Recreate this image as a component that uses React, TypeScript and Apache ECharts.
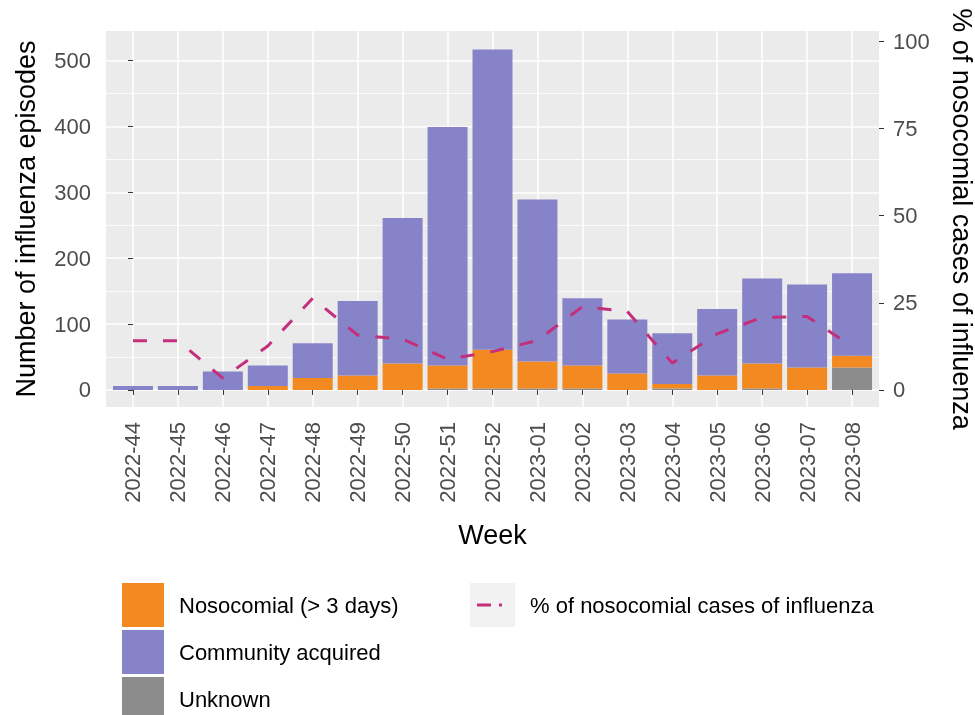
import React, { useEffect, useRef } from 'react';
import * as echarts from 'echarts';

const weeks = [
  '2022-44', '2022-45', '2022-46', '2022-47', '2022-48', '2022-49', '2022-50', '2022-51', '2022-52',
  '2023-01', '2023-02', '2023-03', '2023-04', '2023-05', '2023-06', '2023-07', '2023-08',
];
const unknown = [0, 0, 0, 0, 0, 0, 0, 2, 2, 2, 2, 0, 2, 0, 2, 0, 34];
const nosocomial = [0, 0, 0, 6, 18, 22, 40, 35, 59, 41, 35, 25, 7, 22, 38, 34, 18];
const community = [6, 6, 28, 31, 53, 113, 221, 362, 456, 246, 102, 82, 77, 101, 129, 126, 125];
const pctNosocomial = [14.1, 14.1, 3.4, 12.6, 26.3, 15.7, 14.6, 8.8, 11.0, 14.2, 23.9, 22.5, 7.7, 16.1, 20.8, 21.1, 12.4];

const leftTicks = [0, 100, 200, 300, 400, 500];
const leftMinorTicks = [50, 150, 250, 350, 450];
const rightTicks = [0, 25, 50, 75, 100];

const LEFT_MIN = -25.95;
const LEFT_MAX = 544.95;
const RIGHT_MIN = -4.905;
const RIGHT_MAX = 103.01;

export default function App() {
  const ref = useRef<HTMLDivElement>(null);
  useEffect(() => {
    if (!ref.current) return;
    const chart = echarts.init(ref.current, null, { renderer: 'svg' });
    const idx = weeks.map((_, i) => i);
    const font = '"Liberation Sans", Arial, sans-serif';
    const tickLabel = { fontSize: 22, color: '#4D4D4D', fontFamily: font };
    const titleStyle = { fontSize: 27, color: '#000000', fontFamily: font };
    const legendText = { fontSize: 22, color: '#000000', fontFamily: font, padding: [0, 0, 0, 10] };
    const tickStyle = { show: true, length: 5, lineStyle: { color: '#333333', width: 1 } };
    // value first, week index second: the stack is computed on the value (y) dimension, by index
    const barBase = {
      type: 'bar', stack: 'episodes', barWidth: 40, xAxisIndex: 0, yAxisIndex: 0,
      encode: { x: 1, y: 0 },
    };

    chart.setOption({
      animation: false,
      textStyle: { fontFamily: font },
      grid: {
        left: 106, right: 96, top: 31, bottom: 308,
        show: true, backgroundColor: '#EBEBEB', borderWidth: 0,
        outerBoundsMode: 'none', containLabel: false,
      },
      xAxis: {
        type: 'value', min: -0.6, max: 16.6,
        axisLine: { show: false },
        axisTick: { ...tickStyle, customValues: idx },
        axisLabel: {
          customValues: idx, rotate: 90, margin: 15,
          formatter: (v: number) => weeks[Math.round(v)] ?? '', ...tickLabel,
        },
        splitLine: { show: true, lineStyle: { color: '#FFFFFF', width: 1.5 } },
        name: 'Week', nameLocation: 'middle', nameGap: 114,
        nameTextStyle: titleStyle,
      },
      yAxis: [
        {
          type: 'value', position: 'left', min: LEFT_MIN, max: LEFT_MAX,
          axisLine: { show: false },
          axisTick: { ...tickStyle, customValues: leftTicks },
          axisLabel: { customValues: leftTicks, margin: 15, ...tickLabel },
          splitLine: { show: true, lineStyle: { color: '#FFFFFF', width: 1.5 } },
          name: 'Number of influenza episodes', nameLocation: 'middle', nameGap: 67,
          nameTextStyle: titleStyle,
        },
        {
          type: 'value', position: 'right', min: RIGHT_MIN, max: RIGHT_MAX,
          axisLine: { show: false },
          axisTick: { ...tickStyle, customValues: rightTicks },
          axisLabel: { customValues: rightTicks, margin: 14, ...tickLabel },
          splitLine: { show: false },
          name: '% of nosocomial cases of influenza', nameLocation: 'middle', nameGap: 69, nameRotate: -90,
          nameTextStyle: titleStyle,
        },
        {
          type: 'value', position: 'left', min: LEFT_MIN, max: LEFT_MAX,
          axisLine: { show: false },
          axisTick: { show: false, customValues: leftMinorTicks },
          axisLabel: { show: false },
          splitLine: { show: true, lineStyle: { color: '#FFFFFF', width: 0.8 } },
        },
      ],
      legend: [
        {
          orient: 'vertical', left: 117, top: 578, height: 200,
          itemWidth: 42, itemHeight: 44, itemGap: 3,
          icon: 'rect',
          data: ['Nosocomial (> 3 days)', 'Community acquired', 'Unknown'],
          textStyle: legendText,
          selectedMode: false,
        },
        {
          orient: 'vertical', left: 465, top: 578,
          itemWidth: 45, itemHeight: 44,
          data: [{ name: '% of nosocomial cases of influenza', icon: 'rect', itemStyle: { color: '#F2F2F2' } }],
          textStyle: legendText,
          selectedMode: false,
        },
      ],
      graphic: [
        { type: 'line', z: 100, shape: { x1: 477, y1: 605, x2: 491, y2: 605 }, style: { stroke: '#C42F7C', lineWidth: 3 } },
        { type: 'line', z: 100, shape: { x1: 499, y1: 605, x2: 502, y2: 605 }, style: { stroke: '#C42F7C', lineWidth: 3 } },
      ],
      series: [
        { ...barBase, name: 'Unknown', itemStyle: { color: '#8C8C8C' }, data: idx.map((i) => [unknown[i], i]) },
        { ...barBase, name: 'Nosocomial (> 3 days)', itemStyle: { color: '#F28A21' }, data: idx.map((i) => [nosocomial[i], i]) },
        { ...barBase, name: 'Community acquired', itemStyle: { color: '#8783C8' }, data: idx.map((i) => [community[i], i]) },
        {
          type: 'line', name: '% of nosocomial cases of influenza', xAxisIndex: 0, yAxisIndex: 1,
          symbol: 'none', showSymbol: false, z: 5,
          lineStyle: { color: '#C42F7C', width: 3, type: [14, 16] },
          itemStyle: { color: '#C42F7C' },
          data: idx.map((i) => [i, pctNosocomial[i]]),
        },
      ],
    });
    return () => chart.dispose();
  }, []);
  return <div ref={ref} style={{ position: 'fixed', left: 0, top: 0, width: 975, height: 715 }} />;
}
